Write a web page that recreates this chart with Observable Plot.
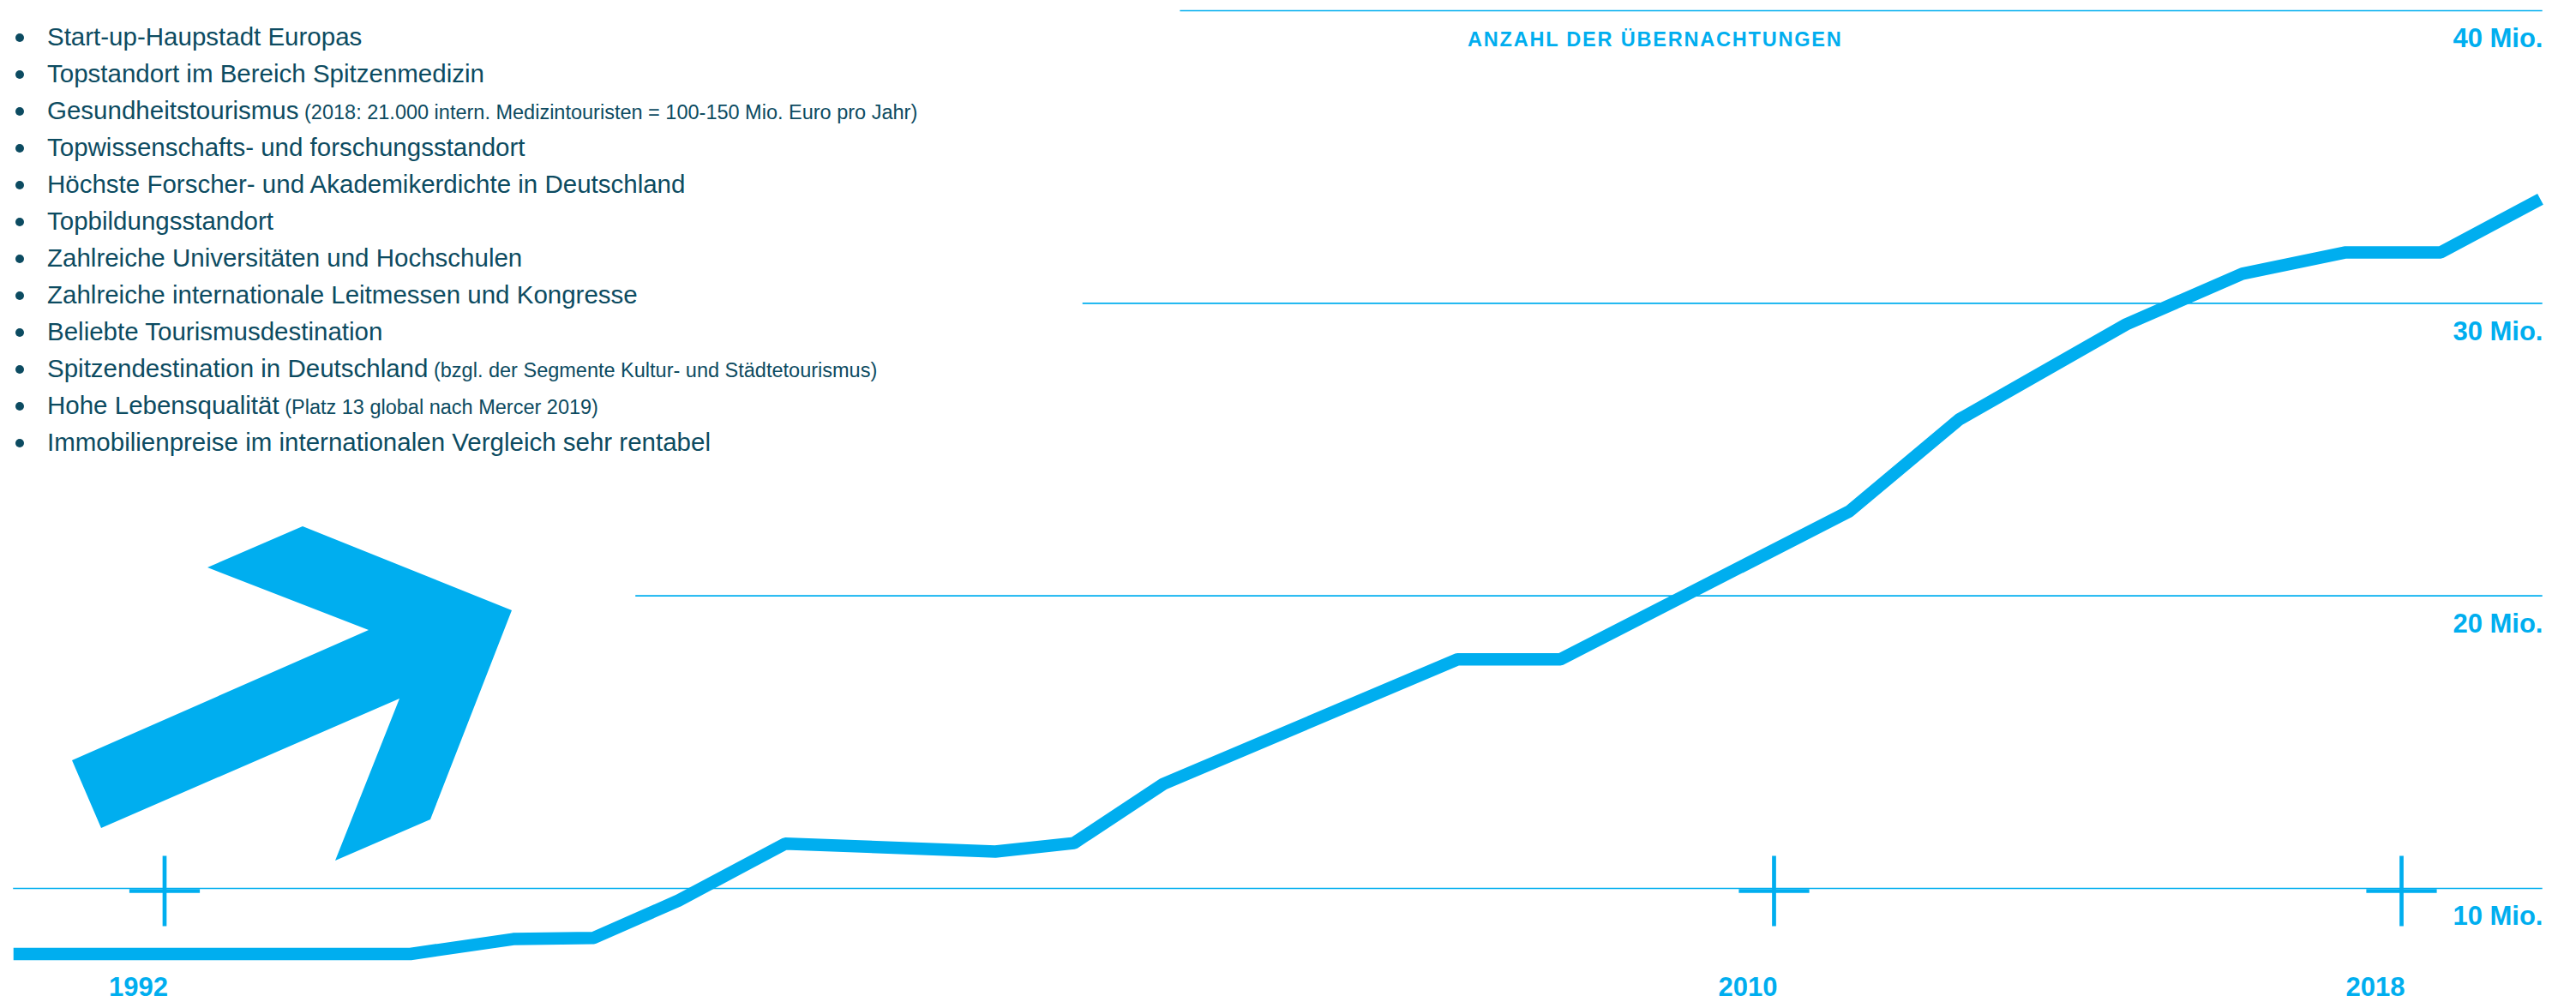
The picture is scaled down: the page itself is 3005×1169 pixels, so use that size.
<!DOCTYPE html>
<html>
<head>
<meta charset="utf-8">
<script src="https://cdn.jsdelivr.net/npm/d3@7"></script>
<script src="https://cdn.jsdelivr.net/npm/@observablehq/plot@0.6"></script>
<style>
  html, body { margin: 0; padding: 0; background: #ffffff; }
  #wrap { position: relative; width: 3005px; height: 1169px; overflow: hidden;
          font-family: "Liberation Sans", Arial, Helvetica, sans-serif; }
  #chart { position: absolute; left: 0; top: 0; }
  #bullets { position: absolute; left: 0; top: 21px; margin: 0; padding: 0; list-style: none;
             color: #0c4b61; font-size: 29.5px; line-height: 43px; }
  #bullets li { position: relative; padding-left: 55px; white-space: nowrap; height: 43px; }
  #bullets li::before { content: ""; position: absolute; left: 17.5px; top: 17.5px; width: 10px; height: 10px;
                        border-radius: 50%; background: #0c4b61; }
  #bullets .note { font-size: 23.5px; line-height: 10px; }
  #title { position: absolute; left: 1712px; top: 35px; font-size: 23.5px; line-height: 23.5px;
           font-weight: bold; letter-spacing: 1.8px; color: #00aeef; white-space: nowrap; }
</style>
</head>
<body>
<div id="wrap">
  <div id="chart"></div>
  <ul id="bullets"></ul>
  <div id="title"></div>
</div>
<script>
// ---- data ----
const chartTitle = "ANZAHL DER ÜBERNACHTUNGEN";
const years = [1990.31, 1994.75, 1995.90, 1996.80, 1997.75, 1998.94, 2001.29, 2002.17, 2003.17,
               2006.46, 2007.61, 2010.96, 2012.36, 2014.49, 2015.97, 2017.29, 2018.50, 2019.77];
const overnightStays = [7.76, 7.76, 8.27, 8.31, 9.59, 11.53, 11.26, 11.55, 13.57,
                        17.83, 17.83, 22.89, 26.03, 29.28, 31.01, 31.74, 31.74, 33.56];
const tickYears = [1992, 2010, 2018];
const tickValues = [10, 20, 30, 40];
const bulletMain = [
  "Start-up-Haupstadt Europas",
  "Topstandort im Bereich Spitzenmedizin",
  "Gesundheitstourismus",
  "Topwissenschafts- und forschungsstandort",
  "Höchste Forscher- und Akademikerdichte in Deutschland",
  "Topbildungsstandort",
  "Zahlreiche Universitäten und Hochschulen",
  "Zahlreiche internationale Leitmessen und Kongresse",
  "Beliebte Tourismusdestination",
  "Spitzendestination in Deutschland",
  "Hohe Lebensqualität",
  "Immobilienpreise im internationalen Vergleich sehr rentabel"
];
const bulletNote = [
  "", "",
  "(2018: 21.000 intern. Medizintouristen = 100-150 Mio. Euro pro Jahr)",
  "", "", "", "", "", "",
  "(bzgl. der Segmente Kultur- und Städtetourismus)",
  "(Platz 13 global nach Mercer 2019)",
  ""
];

// ---- layout / style (not data) ----
const blue = "#00aeef";
const layout = {
  xRange: [191.5, 2069, 2801],
  yRange: [1036, 12],
  gridStart: [1990.31, 1997.27, 2002.27, 2003.36],   // where each gridline begins (x units)
  gridEnd: 2019.80
};
// decorative arrow outline, pixel coordinates
const arrowShape = [[353, 614], [597, 712], [502, 956], [391, 1004], [466, 815], [118, 966],
                    [84, 887], [430, 735], [242, 662]];

// ---- text ----
document.getElementById("title").textContent = chartTitle;
const ul = d3.select("#bullets");
bulletMain.forEach((m, i) => {
  const li = ul.append("li");
  li.append("span").text(m);
  if (bulletNote[i]) li.append("span").attr("class", "note").text(" " + bulletNote[i]);
});

// ---- chart ----
const data = years.map((year, i) => ({year, value: overnightStays[i]}));

function arrowMark() {
  return d3.create("svg:polygon")
    .attr("points", arrowShape.map(p => p.join(",")).join(" "))
    .attr("fill", blue)
    .node();
}

const chart = Plot.plot({
  width: 3005,
  height: 1169,
  marginTop: 0,
  marginRight: 39,
  marginBottom: 30,
  marginLeft: 0,
  style: {fontFamily: "'Liberation Sans', Arial, Helvetica, sans-serif", background: "transparent", overflow: "visible"},
  x: {type: "linear", domain: tickYears, range: layout.xRange},
  y: {type: "linear", domain: [10, 40], range: layout.yRange},
  marks: [
    arrowMark,
    Plot.ruleY(tickValues, {y: d => d, x1: (d, i) => layout.gridStart[i], x2: layout.gridEnd,
                            stroke: blue, strokeWidth: 1.6}),
    Plot.dot(tickYears, {x: d => d, y: 10, symbol: "plus", r: 26.5, stroke: blue, strokeWidth: 4.7, dy: 3}),
    Plot.line(data, {x: "year", y: "value", stroke: blue, strokeWidth: 14.5,
                     strokeLinejoin: "miter", strokeLinecap: "butt"}),
    Plot.axisY({anchor: "right", ticks: tickValues, tickSize: 0, tickPadding: 0, textAnchor: "end",
                dy: 33, label: null, tickFormat: d => `${d} Mio.`, fontSize: 31, fontWeight: "bold", color: blue}),
    Plot.axisX({anchor: "bottom", ticks: tickYears, tickSize: 0, tickPadding: 0, textAnchor: "end",
                dx: 4, label: null, tickFormat: d => String(d), fontSize: 31, fontWeight: "bold", color: blue})
  ]
});
document.getElementById("chart").appendChild(chart);
</script>
</body>
</html>
